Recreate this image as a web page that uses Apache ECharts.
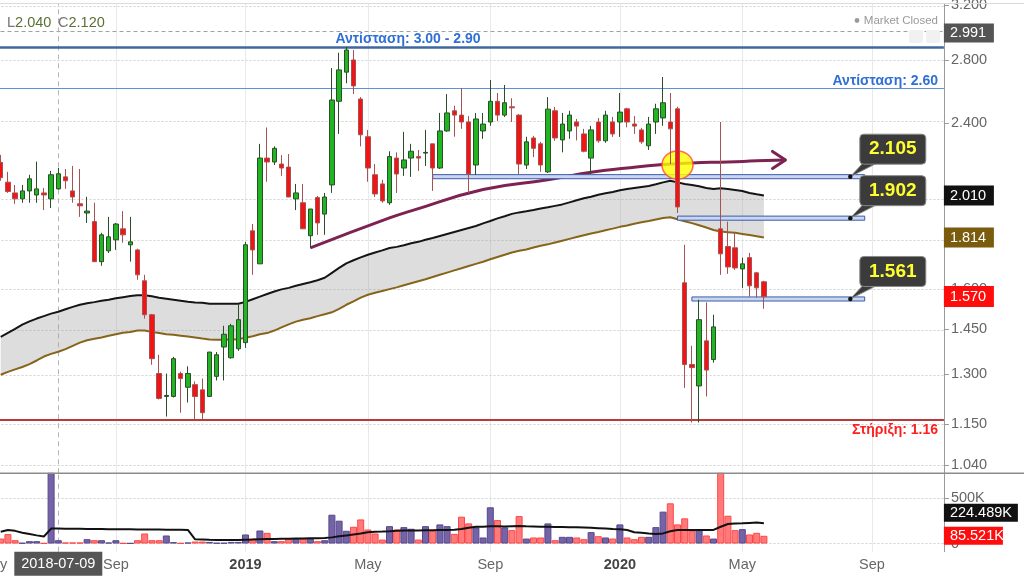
<!DOCTYPE html>
<html>
<head>
<meta charset="utf-8">
<script src="https://cdn.jsdelivr.net/npm/echarts@6/dist/echarts.min.js"></script>
<style>
  html, body { margin: 0; padding: 0; background: #fff; }
  #chart { width: 1024px; height: 576px; }
</style>
</head>
<body>
<div id="chart"></div>
<script>
// ---- Weekly axis -------------------------------------------------------
const FIRST_MONDAY = '2018-05-07';   // first week on the axis
const WEEK_COUNT = 133;              // weeks shown up to Nov 2020
const FIRST_CANDLE_WEEK = '2018-05-14';

// Weekly OHLC, from 2018-05-14 to 2020-05-25
const open = [
  2.180, 2.077, 2.023, 1.994, 2.033, 2.013, 2.023, 1.994, 2.043, 2.104,
  2.033, 1.970, 1.926, 1.886, 1.710, 1.756, 1.804, 1.853, 1.782, 1.760,
  1.632, 1.502, 1.301, 1.230, 1.230, 1.301, 1.258, 1.266, 1.250, 1.230,
  1.292, 1.388, 1.352, 1.382, 1.403, 1.844, 1.701, 2.203, 2.182, 2.171,
  2.155, 1.994, 1.975, 1.822, 2.000, 1.921, 2.063, 2.531, 2.718, 2.800,
  2.545, 2.321, 2.115, 2.068, 1.975, 2.203, 2.150, 2.203, 2.211, 2.230,
  2.281, 2.150, 2.354, 2.473, 2.447, 2.406, 2.166, 2.354, 2.406, 2.531,
  2.447, 2.497, 2.447, 2.166, 2.314, 2.281, 2.130, 2.473, 2.303, 2.354,
  2.406, 2.337, 2.203, 2.406, 2.298, 2.406, 2.406, 2.485, 2.394, 2.360,
  2.270, 2.406, 2.430, 2.406, 2.485, 1.624, 1.330, 1.262, 1.409, 1.346,
  1.853, 1.775, 1.769, 1.680, 1.727, 1.664, 1.628
];
const high = [
  2.220, 2.130, 2.063, 2.063, 2.115, 2.184, 2.048, 2.135, 2.150, 2.145,
  2.161, 2.145, 2.004, 1.975, 1.835, 1.908, 1.880, 1.935, 1.908, 1.765,
  1.656, 1.505, 1.362, 1.301, 1.355, 1.307, 1.324, 1.276, 1.285, 1.371,
  1.371, 1.462, 1.469, 1.539, 1.795, 1.875, 2.281, 2.374, 2.267, 2.219,
  2.225, 2.068, 2.068, 1.945, 2.008, 2.023, 2.745, 2.850, 2.891, 2.869,
  2.557, 2.360, 2.171, 2.089, 2.240, 2.234, 2.349, 2.281, 2.247, 2.360,
  2.281, 2.460, 2.576, 2.504, 2.615, 2.441, 2.460, 2.460, 2.666, 2.583,
  2.634, 2.550, 2.453, 2.321, 2.326, 2.292, 2.557, 2.497, 2.460, 2.473,
  2.424, 2.366, 2.384, 2.430, 2.473, 2.436, 2.583, 2.491, 2.441, 2.372,
  2.436, 2.516, 2.686, 2.583, 2.497, 1.782, 1.392, 1.558, 1.548, 1.502,
  2.406, 1.886, 1.835, 1.727, 1.747, 1.668, 1.632
];
const low = [
  2.084, 2.023, 1.970, 1.975, 1.975, 1.975, 1.940, 1.950, 2.040, 2.043,
  1.975, 1.908, 1.880, 1.710, 1.693, 1.747, 1.760, 1.791, 1.710, 1.636,
  1.488, 1.329, 1.221, 1.171, 1.227, 1.182, 1.212, 1.163, 1.163, 1.230,
  1.279, 1.279, 1.349, 1.375, 1.385, 1.656, 1.701, 2.079, 2.166, 2.109,
  2.003, 1.940, 1.853, 1.769, 1.826, 1.826, 2.023, 2.337, 2.645, 2.576,
  2.267, 2.079, 2.003, 1.975, 1.965, 2.023, 2.109, 2.104, 2.135, 2.161,
  2.033, 2.145, 2.349, 2.321, 2.366, 2.023, 2.114, 2.309, 2.384, 2.412,
  2.436, 2.406, 2.119, 2.145, 2.208, 2.130, 2.124, 2.298, 2.234, 2.309,
  2.300, 2.234, 2.119, 2.287, 2.287, 2.320, 2.320, 2.375, 2.337, 2.281,
  2.247, 2.337, 2.384, 2.171, 1.926, 1.256, 1.154, 1.154, 1.230, 1.336,
  1.656, 1.660, 1.676, 1.604, 1.570, 1.566, 1.524
];
const close = [
  2.100, 2.030, 1.994, 2.033, 2.094, 2.043, 2.013, 2.115, 2.120, 2.084,
  2.003, 1.960, 1.935, 1.710, 1.826, 1.817, 1.875, 1.826, 1.795, 1.656,
  1.502, 1.349, 1.224, 1.233, 1.349, 1.285, 1.301, 1.230, 1.182, 1.371,
  1.362, 1.432, 1.462, 1.484, 1.782, 1.760, 2.203, 2.182, 2.256, 2.150,
  2.003, 2.023, 1.853, 1.945, 1.880, 2.003, 2.539, 2.733, 2.869, 2.628,
  2.332, 2.150, 2.018, 1.984, 2.211, 2.119, 2.193, 2.240, 2.203, 2.234,
  2.150, 2.354, 2.460, 2.447, 2.406, 2.119, 2.424, 2.394, 2.531, 2.447,
  2.522, 2.491, 2.171, 2.292, 2.256, 2.166, 2.483, 2.314, 2.394, 2.447,
  2.382, 2.240, 2.360, 2.298, 2.447, 2.337, 2.465, 2.406, 2.382, 2.292,
  2.394, 2.485, 2.522, 2.366, 1.955, 1.330, 1.320, 1.484, 1.312, 1.458,
  1.743, 1.688, 1.684, 1.701, 1.612, 1.604, 1.570
];

// Moving-average envelope (upper = black, lower = brown)
const maUpper = [
  1.423, 1.437, 1.451, 1.466, 1.478, 1.488, 1.497, 1.506, 1.513, 1.522,
  1.531, 1.539, 1.545, 1.549, 1.554, 1.558, 1.564, 1.568, 1.572, 1.575,
  1.575, 1.571, 1.566, 1.562, 1.558, 1.554, 1.550, 1.548, 1.547, 1.543,
  1.543, 1.543, 1.543, 1.543, 1.550, 1.560, 1.570, 1.580, 1.590, 1.598,
  1.604, 1.612, 1.619, 1.626, 1.634, 1.644, 1.664, 1.684, 1.703, 1.716,
  1.728, 1.739, 1.749, 1.758, 1.768, 1.773, 1.780, 1.789, 1.795, 1.804,
  1.812, 1.821, 1.830, 1.839, 1.848, 1.857, 1.866, 1.878, 1.889, 1.901,
  1.911, 1.922, 1.929, 1.934, 1.940, 1.947, 1.953, 1.960, 1.967, 1.977,
  1.987, 1.997, 2.004, 2.014, 2.021, 2.028, 2.036, 2.043, 2.048, 2.053,
  2.058, 2.066, 2.076, 2.084, 2.076, 2.068, 2.063, 2.056, 2.048, 2.042,
  2.046, 2.043, 2.038, 2.033, 2.023, 2.016, 2.010
];
const maLower = [
  1.297, 1.306, 1.314, 1.322, 1.331, 1.343, 1.356, 1.365, 1.372, 1.381,
  1.392, 1.403, 1.411, 1.416, 1.421, 1.427, 1.432, 1.437, 1.440, 1.445,
  1.445, 1.440, 1.436, 1.432, 1.430, 1.427, 1.424, 1.421, 1.417, 1.414,
  1.413, 1.413, 1.414, 1.415, 1.420, 1.425, 1.432, 1.436, 1.445, 1.456,
  1.467, 1.477, 1.484, 1.489, 1.497, 1.504, 1.511, 1.524, 1.539, 1.552,
  1.566, 1.577, 1.585, 1.592, 1.599, 1.606, 1.614, 1.622, 1.630, 1.638,
  1.647, 1.656, 1.665, 1.674, 1.683, 1.692, 1.701, 1.710, 1.720, 1.730,
  1.739, 1.749, 1.756, 1.762, 1.770, 1.778, 1.784, 1.792, 1.800, 1.808,
  1.816, 1.824, 1.832, 1.839, 1.847, 1.854, 1.862, 1.868, 1.876, 1.883,
  1.889, 1.896, 1.903, 1.906, 1.897, 1.888, 1.879, 1.869, 1.859, 1.848,
  1.841, 1.838, 1.835, 1.830, 1.825, 1.820, 1.814
];

// Weekly volume and its average, in thousands of shares
const volumeK = [
  55, 104, 37, 7, 26, 26, 4, 1700, 37, 11,
  11, 11, 48, 37, 37, 11, 37, 4, 4, 37,
  111, 37, 37, 89, 15, 4, 11, 22, 22, 18,
  7, 7, 18, 18, 100, 55, 144, 118, 26, 26,
  55, 55, 55, 55, 26, 37, 318, 252, 141, 185,
  266, 155, 111, 44, 192, 155, 181, 163, 44, 192,
  141, 211, 192, 107, 296, 222, 178, 67, 400, 259,
  178, 148, 303, 55, 67, 67, 222, 37, 74, 74,
  67, 48, 126, 81, 67, 55, 211, 67, 48, 74,
  74, 181, 352, 444, 211, 278, 141, 155, 89, 55,
  1450, 307, 148, 159, 100, 118, 85.521
];
const volumeAvgK = [
  131, 150, 140, 120, 105, 90, 78, 165, 165, 164,
  163, 162, 161, 160, 160, 159, 158, 158, 157, 156,
  156, 155, 154, 153, 152, 151, 150, 47, 45, 42,
  40, 39, 40, 40, 42, 44, 48, 50, 50, 52,
  54, 56, 57, 58, 58, 60, 68, 80, 90, 100,
  110, 125, 130, 132, 135, 140, 143, 145, 145, 147,
  148, 150, 150, 152, 160, 175, 185, 185, 190, 190,
  188, 192, 194, 190, 188, 185, 185, 183, 182, 180,
  180, 178, 175, 170, 165, 160, 158, 150, 125, 118,
  110, 105, 112, 135, 150, 150, 150, 150, 150, 150,
  185, 215, 222, 224, 228, 232, 224.489
];

// Axis ticks
const priceTicks = [1.04, 1.15, 1.30, 1.45, 1.60, 1.80, 2.00, 2.40, 2.80, 3.20];
const volumeTicksK = [0, 500];
const monthLabels = {
  '2018-05-07': 'May', '2018-09-03': 'Sep', '2019-01-07': '2019',
  '2019-05-06': 'May', '2019-09-02': 'Sep', '2020-01-06': '2020',
  '2020-05-04': 'May', '2020-09-07': 'Sep'
};
const yearLabels = ['2019', '2020'];

// Annotations
const crosshairWeek = '2018-07-09';
const crosshairPrice = 2.991;
const resistanceHigh = 2.884;
const resistanceHighText = 'Αντίσταση: 3.00 - 2.90';
const resistanceLow = 2.60;
const resistanceLowText = 'Αντίσταση: 2.60';
const supportLevel = 1.16;
const supportText = 'Στήριξη: 1.16';
const levelNames = [2.105, 1.902, 1.561];
const levelStartWeeks = ['2019-07-08', '2020-03-02', '2020-03-16'];
const levelEndWeek = '2020-08-31';
const levelTagWeek = '2020-08-17';
const trendWeeks = ['2019-03-11', '2019-05-27', '2019-06-17', '2019-08-26', '2019-10-28',
  '2019-12-09', '2020-01-13', '2020-02-17', '2020-03-16', '2020-04-20', '2020-05-18', '2020-06-15'];
const trendPrices = [1.769, 1.903, 1.936, 2.040, 2.089, 2.128, 2.150, 2.168, 2.177, 2.182, 2.188, 2.193];
const markerWeek = '2020-03-02';
const markerPrice = 2.166;

// Visible price range (log scale)
const PRICE_MIN = 1.0193;
const PRICE_MAX = 3.2107;
const VOLUME_MIN_K = -90;
const VOLUME_MAX_K = 775;

const FONT = '"Liberation Sans", Arial, Helvetica, sans-serif';
const ln = Math.log;

// ---- Build the week list ------------------------------------------------
const weeks = [];
{
  const t0 = Date.parse(FIRST_MONDAY + 'T00:00:00Z');
  for (let i = 0; i < WEEK_COUNT; i++) {
    weeks.push(new Date(t0 + i * 7 * 86400000).toISOString().slice(0, 10));
  }
}
const first = weeks.indexOf(FIRST_CANDLE_WEEK);
const lead = new Array(first).fill('-');

const candleData = lead.concat(open.map((o, i) => [ln(o), ln(close[i]), ln(low[i]), ln(high[i])]));
const upperLn = lead.concat(maUpper.map(ln));
const lowerLn = lead.concat(maLower.map(ln));
const bandWidthLn = lead.concat(maUpper.map((u, i) => ln(u) - ln(maLower[i])));

const UP_FILL = '#7463a6', UP_EDGE = '#57488c';
const DOWN_FILL = '#ff7b7b', DOWN_EDGE = '#ff4646';
const volumeData = lead.concat(volumeK.map((v, i) => {
  const up = close[i] >= open[i];
  return { value: v, itemStyle: { color: up ? UP_FILL : DOWN_FILL, borderColor: up ? UP_EDGE : DOWN_EDGE } };
}));
const volumeAvgData = lead.concat(volumeAvgK);

const isLabelWeek = (idx, value) => monthLabels[value] !== undefined;

const gridLine = { color: '#d0d0d0', type: [2, 2], width: 1 };

function hLines(values, style) {
  return values.map(v => ({ yAxis: v, lineStyle: style }));
}

const option = {
  animation: false,
  backgroundColor: '#ffffff',
  textStyle: { fontFamily: FONT },
  grid: [
    { left: -6.5, right: 80.1, top: 4, height: 469.3, containLabel: false, outerBoundsMode: 'none' },
    { left: -6.5, right: 80.1, top: 473.3, height: 78.4, containLabel: false, outerBoundsMode: 'none' }
  ],
  xAxis: [
    {
      type: 'category', gridIndex: 0, data: weeks, boundaryGap: false,
      axisLine: { show: false }, axisTick: { show: false }, axisLabel: { show: false },
      splitLine: { show: true, interval: isLabelWeek, lineStyle: { color: '#e9e9e9', width: 1 } }
    },
    {
      type: 'category', gridIndex: 1, data: weeks, boundaryGap: false,
      axisLine: { show: false }, axisTick: { show: false },
      splitLine: { show: true, interval: isLabelWeek, lineStyle: { color: '#e9e9e9', width: 1 } },
      axisLabel: {
        show: true, interval: isLabelWeek, margin: 6, color: '#666', fontSize: 14.5, hideOverlap: false,
        formatter: v => {
          const t = monthLabels[v] || '';
          return yearLabels.includes(t) ? '{yr|' + t + '}' : t;
        },
        rich: { yr: { fontWeight: 'bold', color: '#444', fontSize: 14.5, fontFamily: FONT } }
      }
    }
  ],
  yAxis: [
    {
      type: 'value', gridIndex: 0, position: 'right',
      min: ln(PRICE_MIN), max: ln(PRICE_MAX),
      axisLine: { show: true, lineStyle: { color: '#9a9a9a', width: 1 } },
      axisTick: { show: true, length: 5, customValues: priceTicks.map(ln), lineStyle: { color: '#9a9a9a' } },
      axisLabel: {
        customValues: priceTicks.map(ln), margin: 7, color: '#666', fontSize: 14.5,
        formatter: v => Math.exp(v).toFixed(3)
      },
      splitLine: { show: false }
    },
    {
      type: 'value', gridIndex: 1, position: 'right',
      min: VOLUME_MIN_K, max: VOLUME_MAX_K,
      axisLine: { show: true, lineStyle: { color: '#9a9a9a', width: 1 } },
      axisTick: { show: true, length: 5, customValues: volumeTicksK, lineStyle: { color: '#9a9a9a' } },
      axisLabel: {
        customValues: volumeTicksK, margin: 7, color: '#666', fontSize: 14.5,
        formatter: v => (v === 0 ? '0' : v + 'K')
      },
      splitLine: { show: false }
    }
  ],
  series: [
    // horizontal grid of the price panel and the crosshair
    {
      type: 'line', xAxisIndex: 0, yAxisIndex: 0, data: [], z: 0, silent: true,
      markLine: {
        z: 0, silent: true, symbol: ['none', 'none'], label: { show: false }, animation: false,
        data: hLines(priceTicks.map(ln), gridLine).concat([
          { yAxis: ln(crosshairPrice), lineStyle: { color: '#a0a0a0', type: [4, 3], width: 1 } },
          { xAxis: crosshairWeek, lineStyle: { color: '#b4b4b4', type: [5, 4], width: 1 } }
        ])
      }
    },
    // envelope fill between the two averages
    {
      type: 'line', xAxisIndex: 0, yAxisIndex: 0, data: lowerLn, stack: 'envelope',
      symbol: 'none', lineStyle: { opacity: 0 }, z: 1, silent: true
    },
    {
      type: 'line', xAxisIndex: 0, yAxisIndex: 0, data: bandWidthLn, stack: 'envelope',
      symbol: 'none', lineStyle: { opacity: 0 }, areaStyle: { color: 'rgba(160,160,160,0.36)', opacity: 1 }, z: 1, silent: true
    },
    // resistance / support lines
    {
      type: 'line', xAxisIndex: 0, yAxisIndex: 0, data: [], z: 1, silent: true,
      markLine: {
        z: 1, silent: true, symbol: ['none', 'none'], label: { show: false }, animation: false,
        data: [
          { yAxis: ln(resistanceHigh), lineStyle: { color: '#3f679f', width: 2.5, type: 'solid' } },
          { yAxis: ln(resistanceLow), lineStyle: { color: '#5c8fdc', width: 1.2, type: 'solid' } },
          { yAxis: ln(supportLevel), lineStyle: { color: '#b83a3a', width: 2, type: 'solid' } }
        ]
      }
    },
    {
      type: 'line', xAxisIndex: 0, yAxisIndex: 0, data: upperLn, symbol: 'none',
      lineStyle: { color: '#151515', width: 2 }, z: 2, silent: true
    },
    {
      type: 'line', xAxisIndex: 0, yAxisIndex: 0, data: lowerLn, symbol: 'none',
      lineStyle: { color: '#86651a', width: 2 }, z: 2, silent: true
    },
    // hand-drawn trend curve
    {
      type: 'line', xAxisIndex: 0, yAxisIndex: 0, smooth: 0.5, symbol: 'none',
      data: trendWeeks.map((w, i) => [w, ln(trendPrices[i])]),
      lineStyle: { color: '#7d2352', width: 3 }, z: 3, silent: true
    },
    // yellow marker
    {
      type: 'scatter', xAxisIndex: 0, yAxisIndex: 0, symbol: 'circle', symbolSize: [31, 28],
      data: [[markerWeek, ln(markerPrice)]],
      itemStyle: { color: '#ffff00', borderColor: '#ff4a3a', borderWidth: 1.5 }, z: 4, silent: true
    },
    // level bands
    {
      type: 'line', xAxisIndex: 0, yAxisIndex: 0, data: [], z: 4, silent: true,
      markArea: {
        z: 4, silent: true, animation: false,
        itemStyle: { color: '#c8d6f1', borderColor: '#3d5ca8', borderWidth: 1 },
        data: levelNames.map((lv, i) => [
          { xAxis: levelStartWeeks[i], yAxis: ln(lv * 0.995) },
          { xAxis: levelEndWeek, yAxis: ln(lv * 1.005) }
        ])
      }
    },
    {
      type: 'candlestick', xAxisIndex: 0, yAxisIndex: 0, data: candleData, barWidth: 5, z: 5,
      itemStyle: { color: '#22b522', color0: '#f01414', borderColor: '#2a4d2a', borderColor0: '#a65252', borderWidth: 1 }
    },
    // volume panel
    {
      type: 'line', xAxisIndex: 1, yAxisIndex: 1, data: [], z: 0, silent: true,
      markLine: {
        z: 0, silent: true, symbol: ['none', 'none'], label: { show: false }, animation: false,
        data: hLines(volumeTicksK, gridLine).concat([
          { xAxis: crosshairWeek, lineStyle: { color: '#b4b4b4', type: [5, 4], width: 1 } }
        ])
      }
    },
    {
      type: 'bar', xAxisIndex: 1, yAxisIndex: 1, data: volumeData, barWidth: 7,
      itemStyle: { borderWidth: 1 }, z: 2, silent: true
    },
    {
      type: 'line', xAxisIndex: 1, yAxisIndex: 1, data: volumeAvgData, symbol: 'none',
      lineStyle: { color: '#111', width: 2 }, z: 3, silent: true
    }
  ]
};

const chart = echarts.init(document.getElementById('chart'));
chart.setOption(option);

// ---- Overlay labels, tags and callouts -------------------------------
const pricePt = (week, price) => chart.convertToPixel({ gridIndex: 0 }, [weeks.indexOf(week), ln(price)]);
const volY = v => chart.convertToPixel({ gridIndex: 1 }, [0, v])[1];
const axisX = chart.convertToPixel({ gridIndex: 0 }, [WEEK_COUNT - 1, ln(2)])[0];
const volBottom = chart.convertToPixel({ gridIndex: 1 }, [0, VOLUME_MIN_K])[1];
const sepY = chart.convertToPixel({ gridIndex: 1 }, [0, VOLUME_MAX_K])[1];

const g = [];
function text(x, y, str, fill, font, align, extra) {
  g.push(Object.assign({
    type: 'text', x, y, z: 101,
    style: { text: str, fill, font, align, verticalAlign: 'middle', textAlign: align, textVerticalAlign: 'middle' }
  }, extra || {}));
}
function valueTag(y, str, bg, w, h) {
  g.push({ type: 'rect', z: 100, shape: { x: axisX, y: y - h / 2, width: w, height: h }, style: { fill: bg } });
  text(axisX + 6, y, str, '#ffffff', '14.5px ' + FONT, 'left');
}

// frame lines
g.push({ type: 'line', z: 99, shape: { x1: 0, y1: 3.5, x2: 1024, y2: 3.5 }, style: { stroke: '#dadada', lineWidth: 1 } });
g.push({ type: 'line', z: 99, shape: { x1: 0, y1: sepY, x2: 1024, y2: sepY }, style: { stroke: '#8c8c8c', lineWidth: 1.5 } });

// header info
const ci = weeks.indexOf(crosshairWeek) - first;
g.push({
  type: 'text', x: 7, y: 23, z: 101,
  style: {
    text: '{a|L}{b|' + low[ci].toFixed(3) + '}  {a|C}{b|' + close[ci].toFixed(3) + '}',
    verticalAlign: 'middle', textVerticalAlign: 'middle',
    rich: {
      a: { fill: '#777', color: '#777', font: '14.5px ' + FONT },
      b: { fill: '#5b7034', color: '#5b7034', font: '14.5px ' + FONT }
    }
  }
});
g.push({ type: 'circle', z: 101, shape: { cx: 857, cy: 20.5, r: 2.4 }, style: { fill: '#9a9a9a' } });
text(938, 20.5, 'Market Closed', '#999', '11.5px ' + FONT, 'right');
g.push({ type: 'rect', z: 98, shape: { x: 909, y: 30, width: 14, height: 13, r: 2 }, style: { fill: '#f1f1f1' } });
g.push({ type: 'rect', z: 98, shape: { x: 926, y: 30, width: 14, height: 13, r: 2 }, style: { fill: '#f1f1f1' } });

// line captions
const yRh = pricePt(weeks[0], resistanceHigh)[1];
const yRl = pricePt(weeks[0], resistanceLow)[1];
const ySp = pricePt(weeks[0], supportLevel)[1];
text(408, yRh - 8.5, resistanceHighText, '#2f6fd6', 'bold 14px ' + FONT, 'center');
text(938, yRl - 9.5, resistanceLowText, '#2f6fd6', 'bold 14px ' + FONT, 'right');
text(938, ySp + 10, supportText, '#ff1f1f', 'bold 14px ' + FONT, 'right');

// trend arrow head
{
  const n = trendWeeks.length - 1;
  const [tx, ty] = pricePt(trendWeeks[n], trendPrices[n]);
  g.push({
    type: 'polyline', z: 60,
    shape: { points: [[tx - 13, ty - 8.5], [tx, ty], [tx - 13, ty + 8.5]] },
    style: { stroke: '#7d2352', lineWidth: 3, fill: null, lineJoin: 'round', lineCap: 'round' }
  });
}

// level callouts
levelNames.forEach(lv => {
  const [x, y] = pricePt(levelTagWeek, lv);
  const bx = x + 9.5, by = y - 42.5, bw = 66, bh = 30;
  g.push({ type: 'polygon', z: 102, shape: { points: [[x, y], [bx + 3, by + bh - 1], [bx + 17, by + bh - 1]] },
           style: { fill: '#3b3b3b', stroke: '#8a8a8a', lineWidth: 1 } });
  g.push({ type: 'rect', z: 103, shape: { x: bx, y: by, width: bw, height: bh, r: 4 },
           style: { fill: '#3b3b3b', stroke: '#8a8a8a', lineWidth: 1 } });
  g.push({ type: 'text', z: 104, x: bx + bw / 2, y: by + bh / 2,
           style: { text: lv.toFixed(3), fill: '#ffff2e', font: 'bold 19px ' + FONT,
                    align: 'center', verticalAlign: 'middle', textAlign: 'center', textVerticalAlign: 'middle' } });
  g.push({ type: 'circle', z: 105, shape: { cx: x, cy: y, r: 2.2 }, style: { fill: '#111' } });
});

// right-axis value tags
const last = close.length - 1;
valueTag(pricePt(weeks[0], crosshairPrice)[1], crosshairPrice.toFixed(3), '#555555', 50, 19);
valueTag(pricePt(weeks[0], maUpper[last])[1], maUpper[last].toFixed(3), '#111111', 50, 20);
valueTag(pricePt(weeks[0], maLower[last])[1], maLower[last].toFixed(3), '#7b5b0d', 50, 20);
valueTag(pricePt(weeks[0], close[last])[1], close[last].toFixed(3), '#ff0d0d', 50, 21);
{
  const yv = volY(volumeK[last]);
  const ya = Math.min(volY(volumeAvgK[last]), yv - 9 - 5 - 9);
  valueTag(ya, volumeAvgK[last].toFixed(3) + 'K', '#111111', 74, 18);
  valueTag(yv, volumeK[last].toFixed(3) + 'K', '#ff0d0d', 59, 18);
}

// crosshair date tag
{
  const cx = chart.convertToPixel({ gridIndex: 1 }, [weeks.indexOf(crosshairWeek), 0])[0];
  g.push({ type: 'rect', z: 100, shape: { x: cx - 44, y: volBottom, width: 88, height: 24 }, style: { fill: '#555555' } });
  text(cx, volBottom + 12.5, crosshairWeek, '#ffffff', '14.5px ' + FONT, 'center');
}

chart.setOption({ graphic: { elements: g } });
</script>
</body>
</html>
